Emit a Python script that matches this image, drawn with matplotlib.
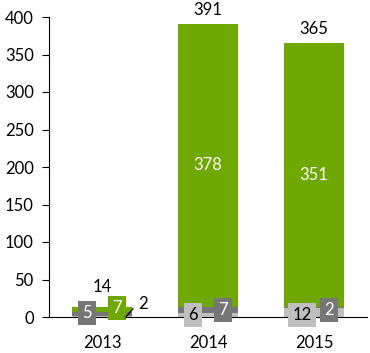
import matplotlib
matplotlib.use("Agg")
import matplotlib.pyplot as plt
import numpy as np

plt.rcParams['font.family'] = ['Lato', 'DejaVu Sans']

years = ["2013", "2014", "2015"]
light = [2, 6, 12]
dark = [5, 7, 2]
green = [7, 378, 351]

c_light = "#bfbfbf"
c_dark = "#767676"
c_green = "#6fa800"

fig = plt.figure(figsize=(3.70, 3.53), dpi=100)
ax = fig.add_axes([49/370, 1 - 317/353, (367 - 49)/370, 300/353])

x = np.arange(len(years))
light = np.array(light)
dark = np.array(dark)
green = np.array(green)
w = 0.56
ax.bar(x, light, w, color=c_light)
ax.bar(x, dark, w, bottom=light, color=c_dark)
ax.bar(x, green, w, bottom=light + dark, color=c_green)

ax.set_xlim(-0.5, 2.5)
ax.set_ylim(0, 400)
ax.set_yticks(range(0, 401, 50))
ax.set_xticks(x, years)
ax.tick_params(axis='y', length=5, labelsize=12, pad=6)
ax.tick_params(axis='x', length=0, labelsize=12, pad=13)
for s in ["top", "right"]:
    ax.spines[s].set_visible(False)

totals = light + dark + green
fs = 12

def box(txt, xi, dx, dy, fc, tc):
    ax.annotate(txt, xy=(xi, 0), xytext=(dx, dy), textcoords='offset pixels',
                ha='center', va='center', fontsize=fs, color=tc,
                bbox=dict(boxstyle='square,pad=0.25', fc=fc, ec='none'),
                annotation_clip=False)

for i in range(len(years)):
    # total above bar
    off = 19 if i == 0 else 14
    ax.annotate(str(totals[i]), xy=(x[i], totals[i]), xytext=(0, off),
                textcoords='offset pixels', ha='center', va='center', fontsize=fs)
    if i == 0:
        box(str(dark[i]), x[i], -15, 4, c_dark, 'white')
        box(str(green[i]), x[i], 15, 9, c_green, 'white')
        ax.annotate(str(light[i]), xy=(x[i] + 0.22, -1), xytext=(18, 14),
                    textcoords='offset pixels', ha='center', va='center', fontsize=fs,
                    annotation_clip=False,
                    arrowprops=dict(arrowstyle='-', color='black', lw=0.9,
                                    relpos=(0, 0.6), shrinkA=3, shrinkB=0))
    else:
        box(str(light[i]), x[i], -15 if light[i] < 10 else -12, 2, c_light, 'black')
        box(str(dark[i]), x[i], 15, 7, c_dark, 'white')
        ax.text(x[i], light[i] + dark[i] + green[i] / 2, str(green[i]),
                ha='center', va='center', fontsize=fs, color='white')

fig.savefig("out.png", dpi=100)
